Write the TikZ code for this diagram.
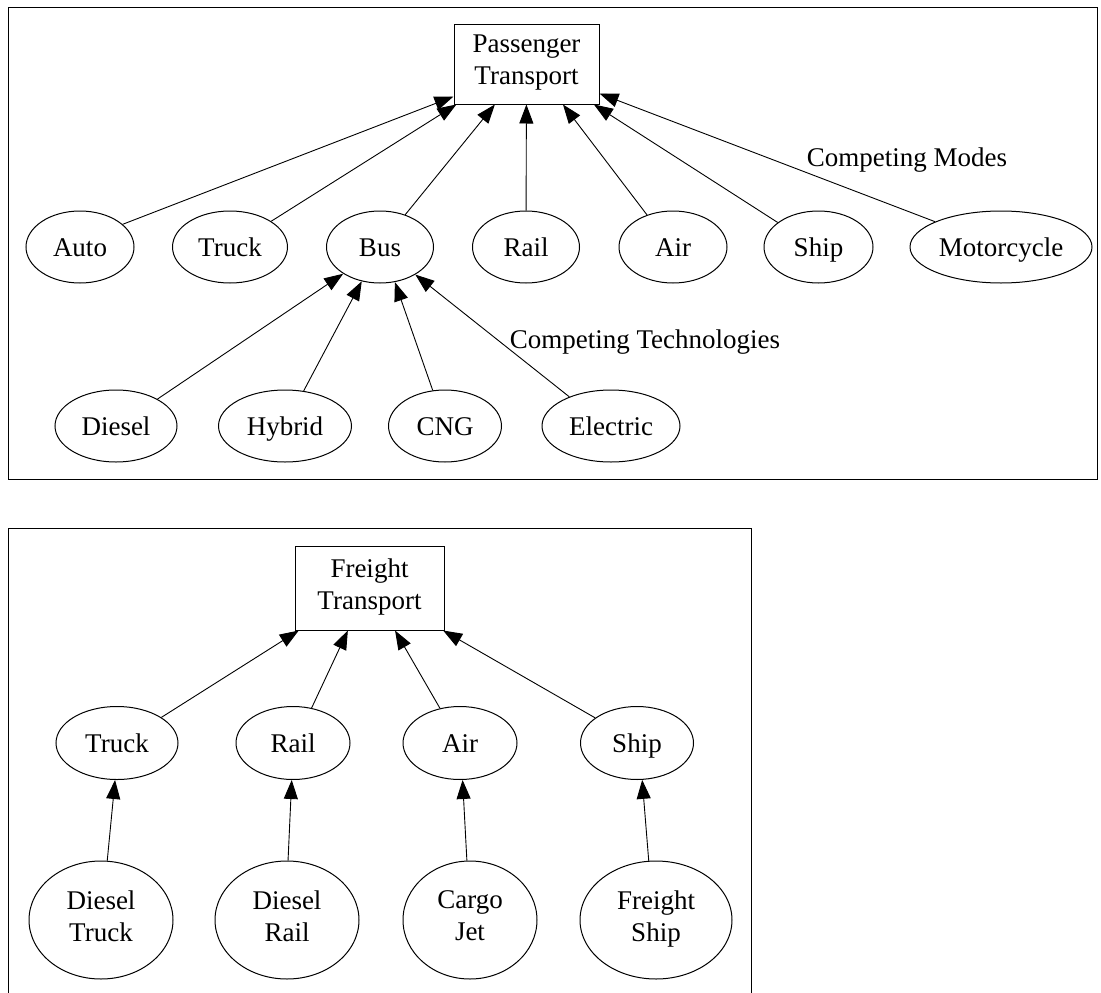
\documentclass[tikz,border=0pt]{standalone}
\usepackage{fontspec}
\setmainfont{Liberation Serif}
\usetikzlibrary{shapes.geometric, arrows.meta}
\newcommand{\heightrow}{72pt}
\newcommand{\heighttall}{118pt}
\newcommand{\labelfont}{\fontsize{27}{32}\selectfont}
\newcommand{\vfix}{\rule[-8pt]{0pt}{34pt}}
\tikzset{
    common/.style={draw, line width=1pt, inner sep=0pt, align=center, font=\labelfont,
        execute at begin node=\vfix, execute at end node=\vfix},
    hub/.style={common, rectangle},
    mode/.style={common, ellipse, minimum height=\heightrow},
    fuel/.style={common, ellipse, minimum height=\heighttall},
    link/.style={line width=0.9pt, -{Triangle[length=19pt, width=14pt]}},
    frame/.style={draw, line width=1pt},
    tag/.style={font=\labelfont, inner sep=0pt}
}

\begin{document}
\begin{tikzpicture}[x=1pt, y=-1pt]
    \useasboundingbox (0,0) rectangle (1101,993);

    % passenger transport
    \draw[frame] (8,7) rectangle (1097,479);
    \node[hub, minimum width=145pt, minimum height=80pt] (pt) at (526.5,64) {Passenger\\Transport};
    \node[mode, minimum width=108pt] (auto) at (80,247) {Auto};
    \node[mode, minimum width=115pt] (truck) at (230,247) {Truck};
    \node[mode, minimum width=107pt] (bus) at (380,247) {Bus};
    \node[mode, minimum width=107pt] (rail) at (526,247) {Rail};
    \node[mode, minimum width=108pt] (air) at (673,247) {Air};
    \node[mode, minimum width=109pt] (ship) at (818.5,247) {Ship};
    \node[mode, minimum width=182pt] (moto) at (1001,247) {Motorcycle};
    \node[mode, minimum width=122pt] (diesel) at (116,426) {Diesel};
    \node[mode, minimum width=133pt] (hybrid) at (285,426) {Hybrid};
    \node[mode, minimum width=113pt] (cng) at (445,426) {CNG};
    \node[mode, minimum width=138pt] (electric) at (611,426) {Electric};
    \node[tag] (modes) at (907,160) {Competing Modes};
    \node[tag] (techs) at (645,342) {Competing Technologies};

    \draw[link] (auto.28) -- (pt.204);
    \draw[link] (truck.32) -- (pt.210);
    \draw[link] (bus.52) -- (pt.232);
    \draw[link] (rail) -- (pt);
    \draw[link] (air.129) -- (pt.312);
    \draw[link] (ship.149) -- (pt.329);
    \draw[link] (moto.159) -- (pt.338);
    \draw[link] (diesel.33) -- (bus.216);
    \draw[link] (hybrid.62) -- (bus.242);
    \draw[link] (cng.109) -- (bus.293);
    \draw[link] (electric.145) -- (bus.322);

    % freight transport
    \draw[frame] (8,993) -- (8,528) -- (751,528) -- (751,993);
    \node[hub, minimum width=149pt, minimum height=84pt] (ft) at (369.5,588) {Freight\\Transport};
    \node[mode, minimum width=122pt, minimum height=73pt] (ftruck) at (117,743) {Truck};
    \node[mode, minimum width=114pt, minimum height=73pt] (frail) at (293,743) {Rail};
    \node[mode, minimum width=114pt, minimum height=73pt] (fair) at (460,743) {Air};
    \node[mode, minimum width=113pt, minimum height=73pt] (fship) at (637,743) {Ship};
    \node[fuel, minimum width=144pt] (dtruck) at (101,920) {Diesel\\Truck};
    \node[fuel, minimum width=144pt] (drail) at (287,920) {Diesel\\Rail};
    \node[fuel, minimum width=134pt] (cjet) at (470,920) {Cargo\\Jet};
    \node[fuel, minimum width=152pt] (fsship) at (656,920) {Freight\\Ship};

    \draw[link] (ftruck.30) -- (ft.211);
    \draw[link] (frail.62) -- (ft.243);
    \draw[link] (fair.120) -- (ft.301);
    \draw[link] (fship.149) -- (ft.330);
    \draw[link] (dtruck.84) -- (ftruck.267);
    \draw[link] (drail.89) -- (frail.268);
    \draw[link] (cjet.93) -- (fair.274);
    \draw[link] (fsship.97) -- (fship.278);
\end{tikzpicture}
\end{document}
